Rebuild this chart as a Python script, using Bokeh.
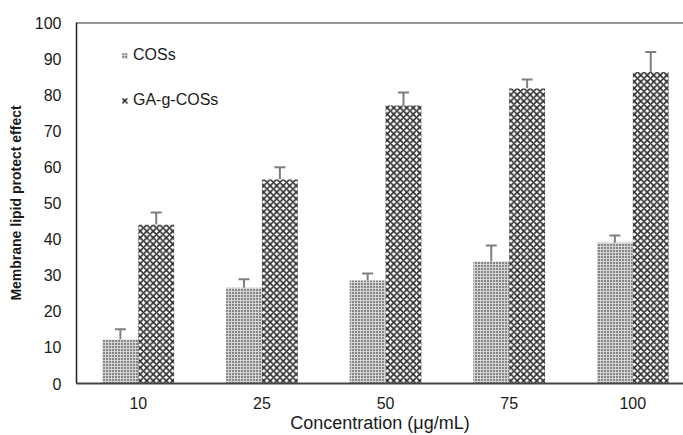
from bokeh.plotting import figure
from bokeh.models import (ColumnDataSource, FixedTicker, Range1d, Legend, LegendItem,
                          Whisker, TeeHead, Span)
from bokeh.embed import file_html
from bokeh.resources import INLINE

# ---- data ----
concentrations = ["10", "25", "50", "75", "100"]
cos_values = [12.2, 26.5, 28.5, 33.8, 39.0]
cos_errors = [2.8, 2.4, 2.0, 4.4, 2.0]
ga_values = [44.0, 56.5, 77.0, 81.7, 86.3]
ga_errors = [3.4, 3.4, 3.6, 2.5, 5.5]
y_ticks = [0, 10, 20, 30, 40, 50, 60, 70, 80, 90, 100]

FONT = "Liberation Sans"
TXT = "#1a1a1a"
BW = 0.29

centers = [i + 0.5 for i in range(len(concentrations))]
cos_x = [c - BW / 2 for c in centers]
ga_x = [c + BW / 2 for c in centers]

src_cos = ColumnDataSource(dict(x=cos_x, top=cos_values,
                                up=[v + e for v, e in zip(cos_values, cos_errors)]))
src_ga = ColumnDataSource(dict(x=ga_x, top=ga_values,
                               up=[v + e for v, e in zip(ga_values, ga_errors)]))

p = figure(width=683, height=435, output_backend="svg", toolbar_location=None,
           x_range=Range1d(0, 4.91), y_range=Range1d(0, 100),
           min_border_left=76, min_border_right=0, min_border_top=22, min_border_bottom=52)
p.outline_line_color = None
p.xgrid.visible = False
p.ygrid.visible = False
p.background_fill_color = "white"
p.border_fill_color = "white"

r_cos = p.vbar(x="x", top="top", width=BW, source=src_cos, fill_color="#d4d4d4",
               line_color=None, hatch_pattern="dot", hatch_scale=3, hatch_weight=2.2,
               hatch_color="#111111")
r_ga = p.vbar(x="x", top="top", width=BW, source=src_ga, fill_color="white",
              line_color=None, hatch_pattern="diagonal_cross", hatch_scale=6.5,
              hatch_weight=1.6, hatch_color="#2a2a2a")

for src in (src_cos, src_ga):
    w = Whisker(base="x", lower="top", upper="up", source=src, dimension="height",
                line_color="#7f7f7f", line_width=2, lower_head=None,
                upper_head=TeeHead(size=11, line_color="#7f7f7f", line_width=2))
    p.add_layout(w)

p.add_layout(Span(location=100, dimension="width", line_color="#333333", line_width=2))

p.xaxis.ticker = FixedTicker(ticks=centers)
p.xaxis.major_label_overrides = {c: lab for c, lab in zip(centers, concentrations)}
p.yaxis.ticker = FixedTicker(ticks=y_ticks)
for ax in (p.xaxis, p.yaxis):
    ax.major_tick_line_color = None
    ax.minor_tick_line_color = None
    ax.major_tick_out = 0
    ax.major_tick_in = 0
    ax.major_label_text_font = FONT
    ax.major_label_text_font_size = "16px"
    ax.major_label_text_color = TXT
p.xaxis.axis_line_color = "#444444"
p.xaxis.axis_line_width = 2
p.yaxis.axis_line_color = "#222222"
p.yaxis.axis_line_width = 1.5
p.xaxis.major_label_standoff = 13
p.yaxis.major_label_standoff = 15

p.yaxis.axis_label = "Membrane lipid protect effect"
p.yaxis.axis_label_text_font = FONT
p.yaxis.axis_label_text_font_size = "14px"
p.yaxis.axis_label_text_font_style = "bold"
p.yaxis.axis_label_text_color = TXT
p.yaxis.axis_label_standoff = 8

p.xaxis.axis_label = "Concentration (μg/mL)"
p.xaxis.axis_label_text_font = FONT
p.xaxis.axis_label_text_font_size = "18px"
p.xaxis.axis_label_text_font_style = "normal"
p.xaxis.axis_label_text_color = TXT
p.xaxis.axis_label_standoff = 1

legend = Legend(items=[LegendItem(label="COSs", renderers=[r_cos]),
                       LegendItem(label="GA-g-COSs", renderers=[r_ga])],
                location=(45, 273), orientation="vertical",
                glyph_width=7, glyph_height=7, label_height=20, spacing=25,
                padding=0, margin=0, border_line_color=None, background_fill_alpha=0,
                label_text_font=FONT, label_text_font_size="16px", label_text_color=TXT,
                label_standoff=5)
p.add_layout(legend)

open("out.html", "w").write(file_html(p, INLINE))
